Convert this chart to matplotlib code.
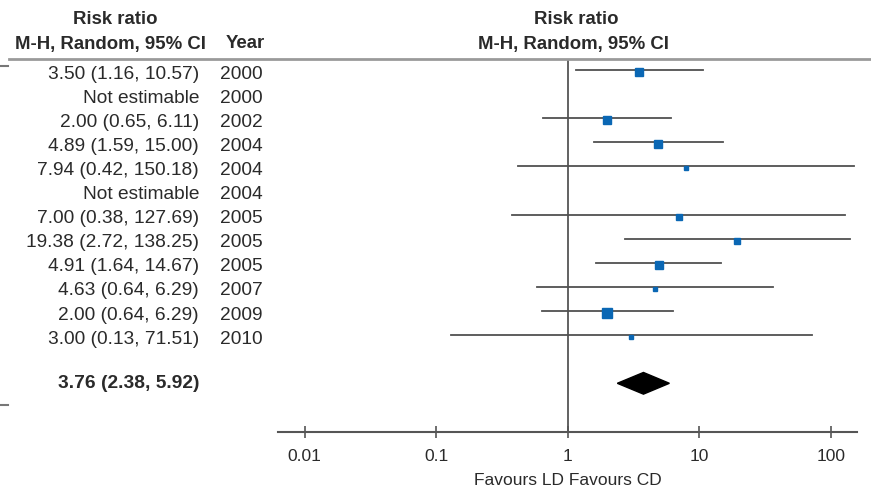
import numpy as np
import matplotlib.pyplot as plt
from matplotlib.transforms import blended_transform_factory
from matplotlib.lines import Line2D

plt.rcParams['font.family'] = ['Liberation Sans', 'DejaVu Sans']

# data
labels = ["3.50 (1.16, 10.57)", "Not estimable", "2.00 (0.65, 6.11)",
          "4.89 (1.59, 15.00)", "7.94 (0.42, 150.18)", "Not estimable",
          "7.00 (0.38, 127.69)", "19.38 (2.72, 138.25)", "4.91 (1.64, 14.67)",
          "4.63 (0.64, 6.29)", "2.00 (0.64, 6.29)", "3.00 (0.13, 71.51)"]
years = [2000, 2000, 2002, 2004, 2004, 2004, 2005, 2005, 2005, 2007, 2009, 2010]
rr = [3.50, np.nan, 2.00, 4.89, 7.94, np.nan, 7.00, 19.38, 4.91, 4.63, 2.00, 3.00]
lo = [1.16, np.nan, 0.65, 1.59, 0.42, np.nan, 0.38, 2.72, 1.64, 0.58, 0.64, 0.13]
hi = [10.57, np.nan, 6.11, 15.00, 150.18, np.nan, 127.69, 138.25, 14.67, 36.0, 6.29, 71.51]
weight = [11, 0, 15, 16, 5, 0, 5.5, 5.5, 15, 5, 17, 5]

pooled = 3.76
pooled_lo = 2.38
pooled_hi = 5.92
pooled_label = "3.76 (2.38, 5.92)"

W, H = 871, 492
fig = plt.figure(figsize=(W / 100, H / 100), dpi=100)

def fx(px):
    return px / W

def fy(py):
    return 1 - py / H

# forest axes placed in pixel terms
left, right, top, bottom = 278, 857, 59, 432
ax = fig.add_axes([fx(left), fy(bottom), fx(right - left), (bottom - top) / H])
ax.set_xscale('log')
dec = 131.6
ax.set_xlim(10 ** (-2 - 26.5 / dec), 10 ** (2 + 26 / dec))
row0, step = 70, 24.1
ax.set_ylim((bottom - row0) / step, (top - row0) / step)

n = len(labels)
ypos = np.arange(n)
ysum = n + 1

for i in range(n):
    if np.isnan(rr[i]):
        continue
    ax.plot([lo[i], hi[i]], [ypos[i], ypos[i]], color='#505050', lw=1.3, zorder=2)
    ms = 2.2 * np.sqrt(weight[i]) * 0.72
    ax.plot(rr[i], ypos[i] + 0.08, marker='s', ms=ms, color='#0a67b4', mec='#0a67b4', zorder=3)

# pooled diamond
ax.fill([pooled_lo, pooled, pooled_hi, pooled],
        [ysum, ysum - 0.45, ysum, ysum + 0.45], color='black', zorder=3)

ax.axvline(1, color='#555555', lw=1.3, zorder=1)

for s in ['top', 'left', 'right']:
    ax.spines[s].set_visible(False)
ax.spines['bottom'].set_color('#555555')
ax.spines['bottom'].set_linewidth(1.5)
ax.set_yticks([])
ax.set_xticks([0.01, 0.1, 1, 10, 100])
ax.set_xticklabels(['0.01', '0.1', '1', '10', '100'])
ax.minorticks_off()
ax.tick_params(axis='x', direction='inout', length=9, width=1.2, color='#555555',
               labelsize=12.5, labelcolor='#2a2a2a', pad=8)
ax.set_xlabel('Favours LD Favours CD', fontsize=12.5, color='#2a2a2a', labelpad=6)

# left columns
tr = blended_transform_factory(fig.transFigure, ax.transData)
txt = dict(fontsize=13.8, color='#2a2a2a', va='center')
for i in range(n):
    ax.text(fx(199), ypos[i] + 0.17, labels[i], transform=tr, ha='right', **txt)
    ax.text(fx(220), ypos[i] + 0.17, str(years[i]), transform=tr, ha='left', **txt)
ax.text(fx(199), ysum, pooled_label, transform=tr, ha='right', fontweight='bold', **txt)

# headers
hdr = dict(ha='center', va='center', fontsize=13.4, fontweight='bold', color='#2a2a2a')
fig.text(fx(115), fy(20), 'Risk ratio', **hdr)
fig.text(fx(110), fy(44), 'M-H, Random, 95% CI', **hdr)
fig.text(fx(245), fy(44), 'Year', **hdr)
fig.text(fx(576), fy(20), 'Risk ratio', **hdr)
fig.text(fx(573), fy(44), 'M-H, Random, 95% CI', **hdr)

# rules
fig.add_artist(Line2D([fx(9), 1], [fy(59), fy(59)], color='#9a9a9a', lw=2))
fig.add_artist(Line2D([0, fx(8)], [fy(66), fy(66)], color='#777777', lw=1.5))
fig.add_artist(Line2D([0, fx(8)], [fy(405), fy(405)], color='#777777', lw=1.5))

fig.savefig('out.png', dpi=100)
